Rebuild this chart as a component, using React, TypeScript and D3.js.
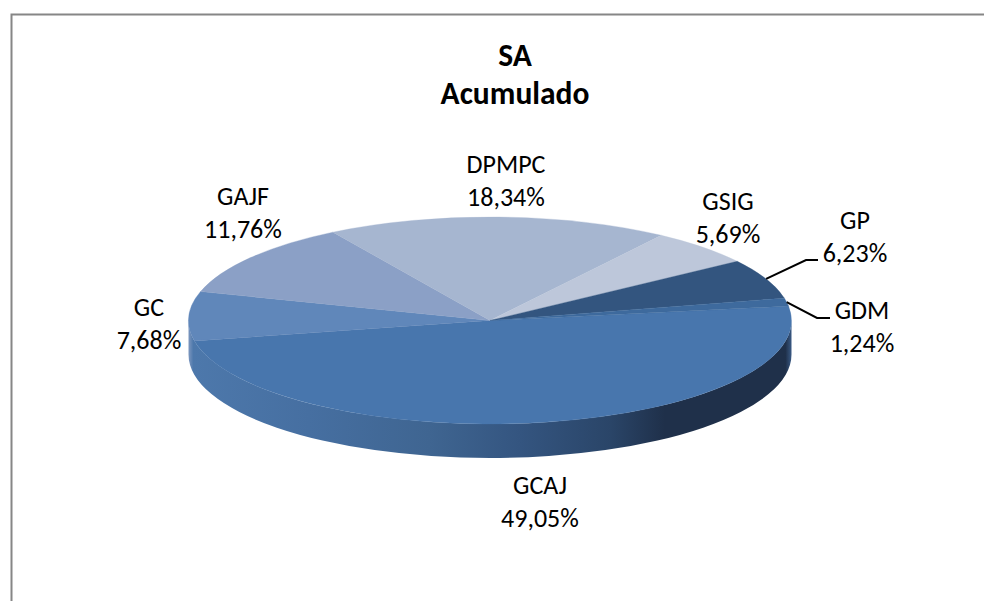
import React from "react";
import * as d3 from "d3";

const categories = ["GCAJ", "GC", "GAJF", "DPMPC", "GSIG", "GP", "GDM"];
const shares = [49.05, 7.68, 11.76, 18.34, 5.69, 6.23, 1.24];
const titleLines = ["SA", "Acumulado"];

const W = 984, H = 601;
const cx = 490, cy = 320.5, rx = 301.5, ry = 103.5, depth = 34;
const startDeg = 82;

const topColors: Record<string, string> = {
  GCAJ: "#4876ad", GC: "#6087ba", GAJF: "#8ba0c6", DPMPC: "#a6b6d0",
  GSIG: "#bdc7da", GP: "#33557f", GDM: "#3e6a9d",
};
const labelAnchors: Record<string, [number, number]> = {
  GCAJ: [540, 485], GC: [149, 307], GAJF: [243, 196], DPMPC: [506, 164],
  GSIG: [728, 201], GP: [855, 220], GDM: [862, 310],
};
const leaders: Record<string, [number, number, number]> = { GP: [806, 260, 818], GDM: [817, 318, 830] };
const wallStops: [number, string][] = [
  [0, "#7d97bf"], [0.008, "#4d78ab"], [0.2, "#466fa1"], [0.4, "#3f6591"], [0.55, "#345580"],
  [0.7, "#2a4568"], [0.79, "#1f304a"], [0.99, "#1f304a"], [1, "#3a5a85"],
];

const fmt = (v: number) => v.toFixed(2).replace(".", ",") + "%";
const font = "Carlito, Lato, 'Open Sans', sans-serif";

export default function App() {
  const pie = d3.pie<number>().sort(null).value((d) => d)
    .startAngle((startDeg * Math.PI) / 180)
    .endAngle(((startDeg + 360) * Math.PI) / 180);
  const arcs = pie(shares);
  const arc = d3.arc<d3.PieArcDatum<number>>().innerRadius(0).outerRadius(rx);
  const rim = (a: number): [number, number] => [cx + rx * Math.sin(a), cy - ry * Math.cos(a)];
  const wall = `M${cx - rx},${cy} A${rx},${ry} 0 0 0 ${cx + rx},${cy} L${cx + rx},${cy + depth} A${rx},${ry} 0 0 1 ${cx - rx},${cy + depth} Z`;

  return (
    <svg width={W} height={H} style={{ position: "fixed", left: 0, top: 0, display: "block" }} fontFamily={font}>
      <rect width={W} height={H} fill="#fff" />
      <defs>
        <linearGradient id="wall" gradientUnits="userSpaceOnUse" x1={cx - rx} x2={cx + rx} y1={0} y2={0}>
          {wallStops.map(([o, c]) => <stop key={o} offset={o} stopColor={c} />)}
        </linearGradient>
      </defs>
      <path d={`M11.5,${H} V14.5 H${W}`} fill="none" stroke="#868686" strokeWidth={2} />
      {titleLines.map((t, i) => (
        <text key={t} x={515} y={66 + i * 38} textAnchor="middle" fontSize={31.5} fontWeight={700} fill="#000">{t}</text>
      ))}
      <path d={wall} fill="url(#wall)" />
      <g transform={`translate(${cx},${cy}) scale(1,${ry / rx})`}>
        {arcs.map((a, i) => <path key={i} d={arc(a) || ""} fill={topColors[categories[i]]} stroke={topColors[categories[i]]} strokeWidth={0.5} />)}
      </g>
      {arcs.map((a, i) => {
        const name = categories[i];
        const [lx, ly] = labelAnchors[name];
        const lead = leaders[name];
        const [sx, sy] = rim((a.startAngle + a.endAngle) / 2);
        return (
          <g key={name}>
            {lead && <path d={`M${sx},${sy} L${lead[0]},${lead[1]} H${lead[2]}`} fill="none" stroke="#000" strokeWidth={2} />}
            <text x={lx} y={ly + 8.5} textAnchor="middle" fontSize={26} fill="#000">{name}</text>
            <text x={lx} y={ly + 41.5} textAnchor="middle" fontSize={26} fill="#000">{fmt(shares[i])}</text>
          </g>
        );
      })}
    </svg>
  );
}
